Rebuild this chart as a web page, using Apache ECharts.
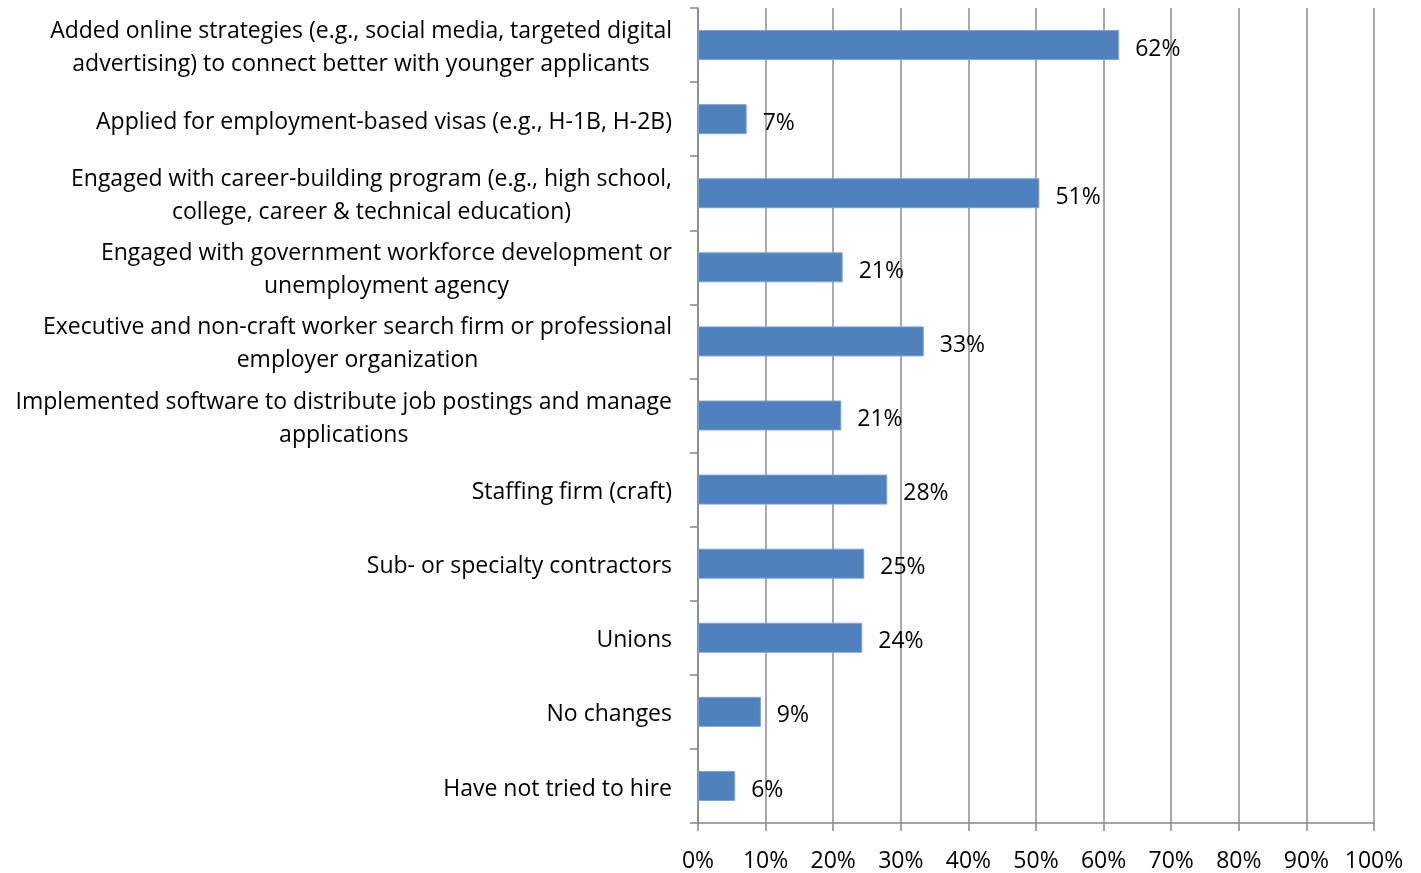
<!DOCTYPE html>
<html>
<head>
<meta charset="utf-8">
<script src="https://cdn.jsdelivr.net/npm/echarts@6/dist/echarts.min.js"></script>
<style>
  html, body { margin: 0; padding: 0; background: #fff; }
  #chart { width: 1421px; height: 873px; }
</style>
</head>
<body>
<div id="chart"></div>
<script>
// categories, top to bottom (line breaks as in the original)
const categories = [
  "Added online strategies (e.g., social media, targeted digital\nadvertising) to connect better with younger applicants",
  "Applied for employment-based visas (e.g., H-1B, H-2B)",
  "Engaged with career-building program (e.g., high school,\ncollege, career & technical education)",
  "Engaged with government workforce development or\nunemployment agency",
  "Executive and non-craft worker search firm or professional\nemployer organization",
  "Implemented software to distribute job postings and manage\napplications",
  "Staffing firm (craft)",
  "Sub- or specialty contractors",
  "Unions",
  "No changes",
  "Have not tried to hire"
];
// share of respondents, percent
const values = [62.3, 7.2, 50.5, 21.4, 33.4, 21.2, 28.0, 24.6, 24.3, 9.3, 5.5];
const xTicks = [0, 10, 20, 30, 40, 50, 60, 70, 80, 90, 100];

const FONT = "Open Sans";
const FS = 23;
const chart = echarts.init(document.getElementById("chart"));

chart.setOption({
  animation: false,
  grid: { left: 698, right: 47, top: 8, bottom: 44, containLabel: false },
  xAxis: {
    type: "value",
    min: xTicks[0],
    max: xTicks[xTicks.length - 1],
    interval: 10,
    axisLine: { show: true, lineStyle: { color: "#868686", width: 1.5 } },
    axisTick: { show: true, length: 8, lineStyle: { color: "#868686", width: 1.5 } },
    splitLine: { show: true, lineStyle: { color: "#8c8c8c", width: 1.5 } },
    axisLabel: {
      margin: 27,
      color: "#000",
      fontFamily: FONT,
      fontSize: FS,
      formatter: v => v + "%"
    }
  },
  yAxis: {
    type: "category",
    inverse: true,
    data: categories,
    axisLine: { show: true, lineStyle: { color: "#868686", width: 1.5 } },
    axisTick: { show: true, length: 8, lineStyle: { color: "#868686", width: 1.5 } },
    splitLine: { show: false },
    axisLabel: {
      interval: 0,
      margin: 26,
      color: "#000",
      fontFamily: FONT,
      fontSize: FS,
      lineHeight: 33,
      padding: [6, 0, 0, 0],
      // center each line within the label block, as the original does
      formatter: v => v.split("\n").map(l => "{c|" + l + "}").join("\n"),
      rich: {
        c: { align: "center", color: "#000", fontFamily: FONT, fontSize: FS, lineHeight: 33 }
      }
    }
  },
  series: [{
    type: "bar",
    data: values,
    barWidth: 30,
    itemStyle: { color: "#4F81BD", borderColor: "#7fa3d3", borderWidth: 1 },
    label: {
      show: true,
      position: "right",
      distance: 16,
      offset: [0, 4],
      color: "#000",
      fontFamily: FONT,
      fontSize: FS,
      formatter: p => Math.round(p.value) + "%"
    }
  }]
});
</script>
</body>
</html>
